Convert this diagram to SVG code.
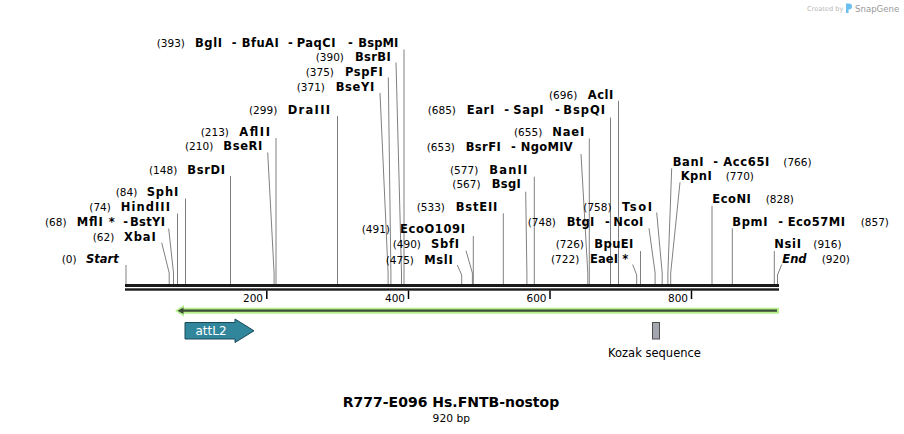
<svg xmlns="http://www.w3.org/2000/svg" width="904" height="434" viewBox="0 0 904 434">
<style>
text { font-family: "DejaVu Sans", Verdana, sans-serif; fill: #000; }
.n { font-size: 10.5px; }
.b { font-size: 11.5px; font-weight: bold; }
.bi { font-size: 11.5px; font-weight: bold; font-style: italic; }
.c { fill: none; stroke: #808080; stroke-width: 1; }
.tk { stroke: #000; stroke-width: 1.5; }
.tl { font-size: 10.5px; text-anchor: end; }
</style>
<rect x="0" y="0" width="904" height="434" fill="#fff"/>

<g id="credit">
<text x="807" y="11" style="font-size:6.6px;fill:#b8b8b8">Created by</text>
<path d="M846,3.5 h3 a3,3 0 0 1 0,6 h-0.5 v3.5 h-2.5 z" fill="#6cc0ef"/>
<text x="855" y="11.5" style="font-size:8.6px;fill:#9a9a9a">SnapGene</text>
</g>

<g id="connectors">
<path class="c" d="M404,49.5 V284"/>
<path class="c" d="M396,62.5 L401.5,273 V284"/>
<path class="c" d="M388.3,77.5 L390.9,273 V284"/>
<path class="c" d="M380,93 L388.1,273 V284"/>
<path class="c" d="M337.5,116 V284"/>
<path class="c" d="M276,138 V284"/>
<path class="c" d="M267.7,152.5 L274.1,273 V284"/>
<path class="c" d="M230.5,176 V284"/>
<path class="c" d="M185.5,198.5 V284"/>
<path class="c" d="M177.5,213.5 V284"/>
<path class="c" d="M168.7,228.5 L173.5,273 V284"/>
<path class="c" d="M161.7,242.7 L169.2,273 V284"/>
<path class="c" d="M126,265 V284"/>
<path class="c" d="M618.5,100.7 V284"/>
<path class="c" d="M610.5,117.5 V284"/>
<path class="c" d="M589.3,138.5 V284"/>
<path class="c" d="M581,154 L587.8,273 V284"/>
<path class="c" d="M534.3,176.7 V284"/>
<path class="c" d="M525.7,191.7 L526.9,273 V284"/>
<path class="c" d="M503.3,213.3 V284"/>
<path class="c" d="M473.3,236 V284"/>
<path class="c" d="M466,250.7 L472.4,273 V284"/>
<path class="c" d="M457.3,265 L461.7,275 V284"/>
<path class="c" d="M656.7,212.5 L662.2,273 V284"/>
<path class="c" d="M649,228.3 L655.1,273 V284"/>
<path class="c" d="M640.5,251 V284"/>
<path class="c" d="M632.7,264.5 L636.7,275 V284"/>
<path class="c" d="M671.7,168.3 L667.9,273 V284"/>
<path class="c" d="M680,182.3 L670.7,273 V284"/>
<path class="c" d="M712,205.7 V284"/>
<path class="c" d="M732.3,228.3 V284"/>
<path class="c" d="M774.3,251 V284"/>
<path class="c" d="M781.7,264.5 L777.5,275 V284"/>
</g>

<g id="backbone">
<rect x="125" y="284" width="654" height="3" fill="#1a1a1a"/>
<rect x="125" y="288.3" width="654" height="2.4" fill="#1a1a1a"/>
<line class="tk" x1="266.8" y1="290.5" x2="266.8" y2="299"/>
<line class="tk" x1="408.5" y1="290.5" x2="408.5" y2="299"/>
<line class="tk" x1="550" y1="290.5" x2="550" y2="299"/>
<line class="tk" x1="691.5" y1="290.5" x2="691.5" y2="299"/>
<text class="tl" x="263" y="301.5">200</text>
<text class="tl" x="405" y="301.5">400</text>
<text class="tl" x="546.5" y="301.5">600</text>
<text class="tl" x="688" y="301.5">800</text>
</g>

<g id="orf-arrow">
<line x1="179" y1="310.7" x2="779" y2="310.7" stroke="#b6f08c" stroke-width="6"/>
<polygon points="175,310.7 184,305 184,316.4" fill="#b6f08c"/>
<line x1="181" y1="310.7" x2="777" y2="310.7" stroke="#3c4a38" stroke-width="2.2"/>
<polygon points="177.5,310.7 183.5,307.4 183.5,314" fill="#3c4a38"/>
</g>

<g id="attL2">
<path d="M185,322.5 L235,322.5 L235,319 L254,330.8 L235,342.5 L235,339 L185,339 Z" fill="#31869c" stroke="#1b4a58" stroke-width="1"/>
<text x="211" y="335" style="font-size:12px;fill:#fff;text-anchor:middle">attL2</text>
</g>

<g id="kozak">
<rect x="652.5" y="322.5" width="7" height="16.5" fill="#a3a7af" stroke="#505050" stroke-width="1"/>
<text x="654.5" y="356.5" style="font-size:11.5px;text-anchor:middle">Kozak sequence</text>
</g>

<g id="site-393">
<text class="n" x="156.7" y="47">(393)</text>
<text class="b" x="195" y="47" textLength="27">BglI</text>
<text class="b" x="231.7" y="47">-</text>
<text class="b" x="241.7" y="47" textLength="37">BfuAI</text>
<text class="b" x="288" y="47">-</text>
<text class="b" x="296.7" y="47" textLength="38.8">PaqCI</text>
<text class="b" x="348" y="47">-</text>
<text class="b" x="358.3" y="47" textLength="40">BspMI</text>
</g>
<g id="site-390"><text class="n" x="315.7" y="61">(390)</text><text class="b" x="355" y="61" textLength="35.7">BsrBI</text></g>
<g id="site-375"><text class="n" x="305.7" y="76">(375)</text><text class="b" x="345" y="76" textLength="37.7">PspFI</text></g>
<g id="site-371"><text class="n" x="296.7" y="91">(371)</text><text class="b" x="335.7" y="91" textLength="38.6">BseYI</text></g>
<g id="site-299"><text class="n" x="249" y="113.5">(299)</text><text class="b" x="287.7" y="113.5" textLength="42.3">DraIII</text></g>
<g id="site-213"><text class="n" x="200.7" y="136">(213)</text><text class="b" x="239.3" y="136" textLength="30.7">AflII</text></g>
<g id="site-210"><text class="n" x="185" y="150">(210)</text><text class="b" x="223.3" y="150" textLength="39">BseRI</text></g>
<g id="site-148"><text class="n" x="149" y="174">(148)</text><text class="b" x="187.3" y="174" textLength="37.7">BsrDI</text></g>
<g id="site-84"><text class="n" x="115.7" y="196">(84)</text><text class="b" x="146.7" y="196" textLength="31.6">SphI</text></g>
<g id="site-74"><text class="n" x="89.3" y="211">(74)</text><text class="b" x="120.7" y="211" textLength="49.3">HindIII</text></g>
<g id="site-68">
<text class="n" x="45" y="226">(68)</text>
<text class="b" x="76.7" y="226" textLength="38">MflI *</text>
<text class="b" x="123.3" y="226">-</text>
<text class="b" x="130" y="226" textLength="35">BstYI</text>
</g>
<g id="site-62"><text class="n" x="92.7" y="240.7">(62)</text><text class="b" x="124" y="240.7" textLength="31.7">XbaI</text></g>
<g id="start"><text class="n" x="61.7" y="263.3">(0)</text><text class="bi" x="86" y="263.3">Start</text></g>

<g id="site-696"><text class="n" x="549" y="99">(696)</text><text class="b" x="587.7" y="99" textLength="25.6">AclI</text></g>
<g id="site-685">
<text class="n" x="427.7" y="114.3">(685)</text>
<text class="b" x="466.7" y="114.3" textLength="27.5">EarI</text>
<text class="b" x="504.3" y="114.3">-</text>
<text class="b" x="513.3" y="114.3" textLength="30.2">SapI</text>
<text class="b" x="555" y="114.3">-</text>
<text class="b" x="563.3" y="114.3" textLength="41.7">BspQI</text>
</g>
<g id="site-655"><text class="n" x="514" y="136">(655)</text><text class="b" x="552.3" y="136" textLength="32">NaeI</text></g>
<g id="site-653">
<text class="n" x="426.7" y="151">(653)</text>
<text class="b" x="465.7" y="151" textLength="35">BsrFI</text>
<text class="b" x="511" y="151">-</text>
<text class="b" x="520.7" y="151" textLength="52">NgoMIV</text>
</g>
<g id="site-577"><text class="n" x="450" y="174">(577)</text><text class="b" x="489.3" y="174" textLength="38">BanII</text></g>
<g id="site-567"><text class="n" x="452.3" y="188.3">(567)</text><text class="b" x="491.7" y="188.3" textLength="29">BsgI</text></g>
<g id="site-533"><text class="n" x="416.7" y="210.7">(533)</text><text class="b" x="455.7" y="210.7" textLength="41.6">BstEII</text></g>
<g id="site-491"><text class="n" x="361.7" y="233.3">(491)</text><text class="b" x="400" y="233.3" textLength="65">EcoO109I</text></g>
<g id="site-490"><text class="n" x="392.7" y="248.3">(490)</text><text class="b" x="431" y="248.3" textLength="28">SbfI</text></g>
<g id="site-475"><text class="n" x="385.7" y="264">(475)</text><text class="b" x="424.3" y="264" textLength="28.4">MslI</text></g>
<g id="site-758"><text class="n" x="583.3" y="210.7">(758)</text><text class="b" x="622" y="210.7" textLength="30">TsoI</text></g>
<g id="site-748">
<text class="n" x="527.7" y="225.7">(748)</text>
<text class="b" x="566.7" y="225.7" textLength="27.6">BtgI</text>
<text class="b" x="605" y="225.7">-</text>
<text class="b" x="613.3" y="225.7" textLength="30">NcoI</text>
</g>
<g id="site-726"><text class="n" x="555.7" y="248.3">(726)</text><text class="b" x="594.3" y="248.3" textLength="39">BpuEI</text></g>
<g id="site-722"><text class="n" x="551" y="263.3">(722)</text><text class="b" x="590" y="263.3" textLength="38.3">EaeI *</text></g>

<g id="site-766">
<text class="b" x="672.7" y="165.7" textLength="30.9">BanI</text>
<text class="b" x="713.3" y="165.7">-</text>
<text class="b" x="723.3" y="165.7" textLength="46">Acc65I</text>
<text class="n" x="783.3" y="165.7">(766)</text>
</g>
<g id="site-770"><text class="b" x="680.7" y="180" textLength="31">KpnI</text><text class="n" x="725.7" y="180">(770)</text></g>
<g id="site-828"><text class="b" x="712.3" y="203.3" textLength="38.5">EcoNI</text><text class="n" x="765.7" y="203.3">(828)</text></g>
<g id="site-857">
<text class="b" x="732.3" y="226" textLength="35.2">BpmI</text>
<text class="b" x="778.3" y="226">-</text>
<text class="b" x="787.7" y="226" textLength="57.3">Eco57MI</text>
<text class="n" x="860.7" y="226">(857)</text>
</g>
<g id="site-916"><text class="b" x="774.3" y="248.3" textLength="26.7">NsiI</text><text class="n" x="813.3" y="248.3">(916)</text></g>
<g id="end"><text class="bi" x="782.3" y="263.3">End</text><text class="n" x="821.7" y="263.3">(920)</text></g>

<g id="title">
<text x="451" y="407.3" style="font-size:14px;font-weight:bold;text-anchor:middle">R777-E096 Hs.FNTB-nostop</text>
<text x="451.3" y="421.5" style="font-size:10.7px;text-anchor:middle">920 bp</text>
</g>
</svg>
